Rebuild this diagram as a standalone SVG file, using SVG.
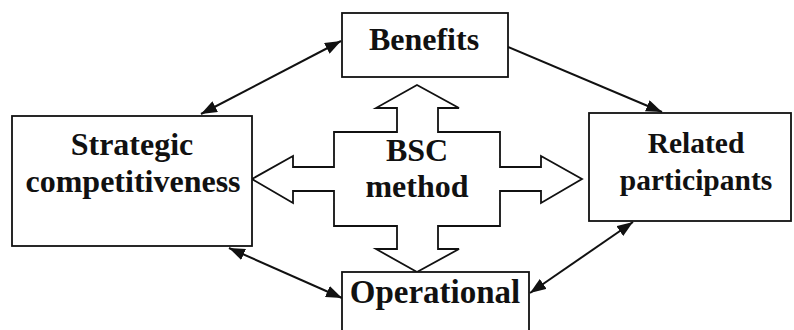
<svg xmlns="http://www.w3.org/2000/svg" width="794" height="330" viewBox="0 0 794 330">
  <style>
    .box { fill: #ffffff; stroke: #111111; stroke-width: 1.8; }
    .cross { fill: #ffffff; stroke: #111111; stroke-width: 1.8; stroke-linejoin: miter; }
    .label { font-family: 'Times New Roman', Times, Tinos, 'Nimbus Roman', 'Nimbus Roman No9 L', 'Noto Serif', FreeSerif, 'Liberation Serif', 'DejaVu Serif', serif; font-weight: 700; fill: #111111; text-anchor: middle; }
    .link { stroke: #111111; stroke-width: 2; fill: none; }
  </style>
  <defs>
    <marker id="head" viewBox="0 0 16 12" refX="16" refY="6" markerWidth="16" markerHeight="12" markerUnits="userSpaceOnUse" orient="auto-start-reverse">
      <path d="M0,0 L16,6 L0,12 z" fill="#111111"/>
    </marker>
  </defs>

  <rect width="794" height="330" fill="#ffffff"/>

  <!-- connectors between the four outer boxes -->
  <g id="connectors">
    <line class="link" x1="201" y1="114" x2="341" y2="41" marker-start="url(#head)" marker-end="url(#head)"/>
    <line class="link" x1="508" y1="47" x2="662" y2="112" marker-end="url(#head)"/>
    <line class="link" x1="633" y1="222" x2="530" y2="293" marker-start="url(#head)" marker-end="url(#head)"/>
    <line class="link" x1="229" y1="248" x2="342" y2="298" marker-start="url(#head)" marker-end="url(#head)"/>
  </g>

  <!-- central four-way block arrow -->
  <g id="bsc-method">
    <polygon class="cross" points="417,85 459,108 438,108 438,132 500,132 500,167 541,167 541,156 582,179 541,203 541,191 500,191 500,226 438,226 438,249 459,249 417,272 376,249 397,249 397,226 334,226 334,191 293,191 293,203 252,179 293,156 293,167 334,167 334,132 397,132 397,108 376,108"/>
    <text class="label" x="417" y="161" font-size="32">BSC</text>
    <text class="label" x="417" y="197" font-size="32">method</text>
  </g>

  <g id="benefits">
    <rect class="box" x="342" y="13" width="166" height="64"/>
    <text class="label" x="424" y="50" font-size="32">Benefits</text>
  </g>

  <g id="strategic-competitiveness">
    <rect class="box" x="12" y="116" width="240" height="130"/>
    <text class="label" x="132" y="155" font-size="32">Strategic</text>
    <text class="label" x="133" y="192" font-size="32">competitiveness</text>
  </g>

  <g id="related-participants">
    <rect class="box" x="589" y="113" width="202" height="108"/>
    <text class="label" x="696" y="153" font-size="29.5">Related</text>
    <text class="label" x="696" y="190" font-size="29.5">participants</text>
  </g>

  <g id="operational">
    <rect class="box" x="342" y="272" width="187" height="70"/>
    <text class="label" x="435" y="303" font-size="33">Operational</text>
  </g>
</svg>
